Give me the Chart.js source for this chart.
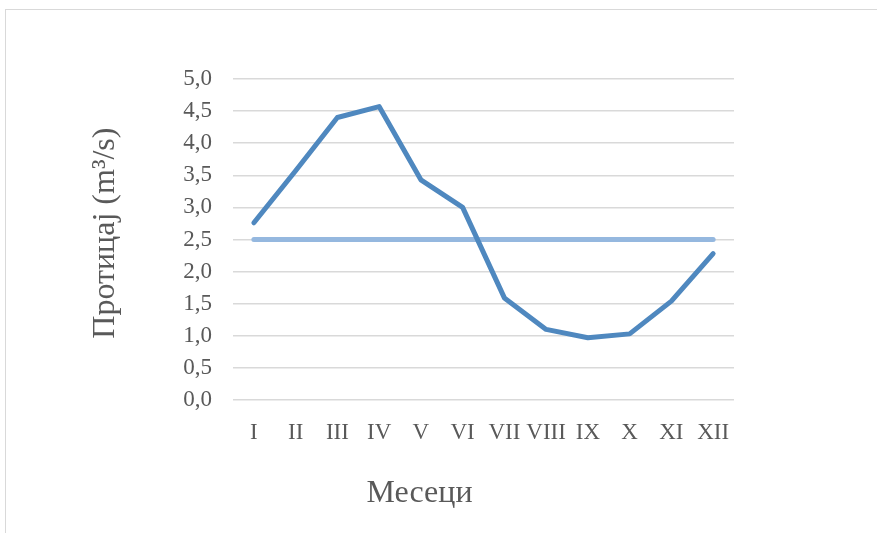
<!DOCTYPE html>
<html>
<head>
<meta charset="utf-8">
<script src="https://cdn.jsdelivr.net/npm/chart.js@4"></script>
<style>
  html, body { margin: 0; padding: 0; background: #fff; }
  #frame { position: absolute; left: 5px; top: 9px; width: 880px; height: 530px; border: 1px solid #d9d9d9; }
  #wrap { position: absolute; left: 0; top: 0; width: 877px; height: 533px; }
</style>
</head>
<body>
<div id="frame"></div>
<div id="wrap"><canvas id="flowChart" width="877" height="533"></canvas></div>
<script>
const months = ["I", "II", "III", "IV", "V", "VI", "VII", "VIII", "IX", "X", "XI", "XII"];
const flow = [2.76, 3.57, 4.40, 4.57, 3.43, 3.00, 1.59, 1.10, 0.97, 1.03, 1.54, 2.28];
const meanFlow = [2.5, 2.5, 2.5, 2.5, 2.5, 2.5, 2.5, 2.5, 2.5, 2.5, 2.5, 2.5];

const serif = "'Liberation Serif', 'Times New Roman', serif";
const textColor = "#595959";

new Chart(document.getElementById("flowChart"), {
  type: "line",
  data: {
    labels: months,
    datasets: [
      {
        label: "Протицај",
        data: flow,
        borderColor: "#4f88bf",
        borderWidth: 5,
        pointRadius: 0,
        tension: 0,
        borderCapStyle: "round",
        borderJoinStyle: "round"
      },
      {
        label: "Средњи протицај",
        data: meanFlow,
        borderColor: "#95b8df",
        borderWidth: 5,
        pointRadius: 0,
        tension: 0,
        borderCapStyle: "round"
      }
    ]
  },
  options: {
    responsive: false,
    animation: false,
    layout: { padding: { left: 86, top: 79, right: 143, bottom: 20 } },
    plugins: {
      legend: { display: false },
      tooltip: { enabled: false }
    },
    scales: {
      x: {
        offset: true,
        grid: { display: false, drawTicks: false },
        border: { display: false },
        ticks: {
          color: textColor,
          font: { family: serif, size: 23 },
          padding: 19,
          maxRotation: 0,
          autoSkip: false
        },
        title: {
          display: true,
          // trailing em spaces shift the title left, as in the original
          text: "Месеци\u2003\u2003\u2003\u2003",
          color: textColor,
          font: { family: serif, size: 32 },
          padding: { top: 0, bottom: 0 }
        },
        afterFit: scale => { scale.height = 113; }
      },
      y: {
        min: 0,
        max: 5,
        grid: { color: "#d9d9d9", lineWidth: 1.5, drawTicks: false },
        border: { display: false },
        ticks: {
          stepSize: 0.5,
          color: textColor,
          font: { family: serif, size: 23 },
          padding: 21,
          callback: v => v.toFixed(1).replace(".", ",")
        },
        title: {
          display: true,
          text: "\u2009\u2009Протицај (m³/s)",
          color: textColor,
          font: { family: serif, size: 32 },
          padding: { top: 0, bottom: 0 }
        },
        afterFit: scale => { scale.width = 147; }
      }
    }
  }
});
</script>
</body>
</html>
